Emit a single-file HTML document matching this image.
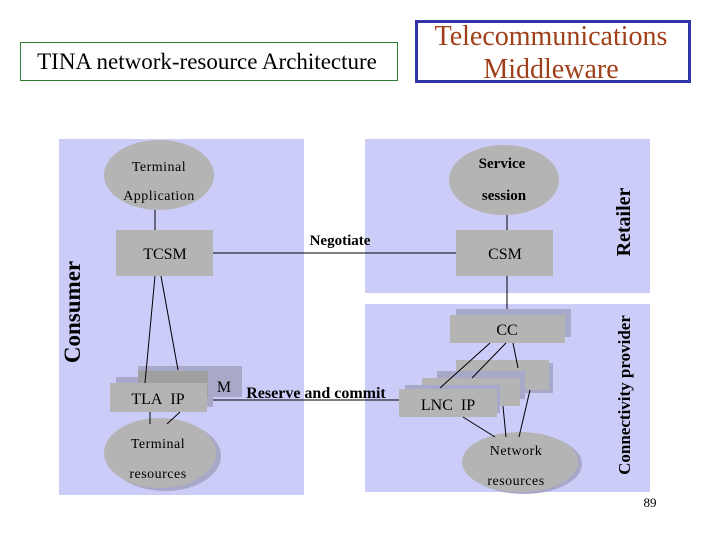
<!DOCTYPE html>
<html><head><meta charset="utf-8"><style>
body{margin:0;background:#fff;}
svg{display:block;font-family:"Liberation Serif",serif;}
</style></head><body>
<svg width="720" height="540" viewBox="0 0 720 540" xmlns="http://www.w3.org/2000/svg">
<rect x="20.5" y="42.5" width="377" height="38" fill="#fff" stroke="#2e7d32" stroke-width="1"/>
<text x="207" y="69" font-size="23" text-anchor="middle" fill="#000">TINA network-resource Architecture</text>
<rect x="416.5" y="21.5" width="273" height="60" fill="#fff" stroke="#3333aa" stroke-width="3"/>
<text x="551" y="45" font-size="28" text-anchor="middle" fill="#a0401a">Telecommunications</text>
<text x="551" y="78" font-size="28" text-anchor="middle" fill="#a0401a">Middleware</text>

<rect x="59" y="139" width="245" height="356" fill="#ccccf8"/>
<rect x="365" y="139" width="285" height="154" fill="#ccccf8"/>
<rect x="365" y="304" width="285" height="188" fill="#ccccf8"/>

<g stroke="#000" stroke-width="1" fill="none">
<line x1="155" y1="210" x2="155" y2="230"/>
<line x1="213" y1="253" x2="456" y2="253"/>
<line x1="507" y1="215" x2="507" y2="230"/>
<line x1="507" y1="276" x2="507" y2="315"/>
<line x1="207" y1="400" x2="399" y2="400"/>
</g>

<ellipse cx="159" cy="175" rx="55" ry="35" fill="#b4b4b4"/>
<text x="159" y="171" font-size="14" text-anchor="middle" letter-spacing="0.5">Terminal</text>
<text x="159" y="200" font-size="14" text-anchor="middle" letter-spacing="0.5">Application</text>
<rect x="116" y="230" width="97" height="46" fill="#b4b4b4"/>
<text x="165" y="259" font-size="16" text-anchor="middle">TCSM</text>
<text x="340" y="245" font-size="15" text-anchor="middle" font-weight="bold">Negotiate</text>

<rect x="116" y="377" width="97" height="30" fill="#a8a8c8"/>
<rect x="138" y="366" width="104" height="31" fill="#a8a8c8"/>
<rect x="138" y="371" width="70" height="26" fill="#a0a0a0"/>
<rect x="110" y="383" width="97" height="29" fill="#b4b4b4"/>
<text x="158" y="404" font-size="16" text-anchor="middle">TLA&#160;&#160;IP</text>
<text x="224" y="392" font-size="16" text-anchor="middle">M</text>
<text x="316" y="398" font-size="16" text-anchor="middle" font-weight="bold">Reserve and commit</text>
<g stroke="#000" fill="none">
<line x1="155" y1="276" x2="145" y2="383"/>
<line x1="161" y1="276" x2="178" y2="370"/>
</g>
<ellipse cx="165" cy="456" rx="56" ry="35" fill="#a8a8c8"/>
<ellipse cx="160" cy="453" rx="56" ry="35" fill="#b4b4b4"/>
<g stroke="#000" fill="none">
<line x1="150" y1="412" x2="150" y2="424"/>
<line x1="180" y1="412" x2="167" y2="424"/>
</g>
<text x="158" y="448" font-size="14" text-anchor="middle" letter-spacing="0.5">Terminal</text>
<text x="158" y="478" font-size="14" text-anchor="middle" letter-spacing="0.5">resources</text>

<ellipse cx="504" cy="180" rx="55" ry="35" fill="#b4b4b4"/>
<text x="502" y="168" font-size="15" text-anchor="middle" font-weight="bold">Service</text>
<text x="504" y="200" font-size="15" text-anchor="middle" font-weight="bold">session</text>
<rect x="456" y="230" width="97" height="46" fill="#b4b4b4"/>
<text x="505" y="259" font-size="16" text-anchor="middle">CSM</text>

<rect x="456" y="309" width="115" height="28" fill="#a8a8c8"/>
<rect x="450" y="315" width="115" height="28" fill="#b4b4b4"/>
<text x="507" y="335" font-size="16" text-anchor="middle">CC</text>

<rect x="460" y="363" width="93" height="30" fill="#a8a8c8"/>
<rect x="456" y="360" width="93" height="30" fill="#b4b4b4"/>
<rect x="437" y="371" width="88" height="28" fill="#a8a8c8"/>
<rect x="422" y="378" width="98" height="28" fill="#b4b4b4"/>
<rect x="405" y="385" width="95" height="28" fill="#a8a8c8"/>
<rect x="399" y="389" width="98" height="28" fill="#b4b4b4"/>
<text x="448" y="410" font-size="16" text-anchor="middle">LNC&#160;&#160;IP</text>

<ellipse cx="524" cy="464" rx="58" ry="30" fill="#a8a8c8"/>
<ellipse cx="520" cy="462" rx="58" ry="30" fill="#b4b4b4"/>
<g stroke="#000" fill="none">
<line x1="490" y1="343" x2="440" y2="388"/>
<line x1="506" y1="343" x2="472" y2="378"/>
<line x1="513" y1="343" x2="518" y2="368"/>
<line x1="463" y1="417" x2="495" y2="437"/>
<line x1="503" y1="406" x2="506" y2="437"/>
<line x1="530" y1="390" x2="519" y2="437"/>
</g>
<text x="516" y="455" font-size="14" text-anchor="middle" letter-spacing="0.5">Network</text>
<text x="516" y="485" font-size="14" text-anchor="middle" letter-spacing="0.5">resources</text>

<text transform="translate(80,312) rotate(-90)" font-size="23" font-weight="bold" text-anchor="middle">Consumer</text>
<text transform="translate(630,222) rotate(-90)" font-size="20" font-weight="bold" text-anchor="middle">Retailer</text>
<text transform="translate(630,395) rotate(-90)" font-size="17" font-weight="bold" text-anchor="middle">Connectivity provider</text>

<text x="650" y="507" font-size="13" text-anchor="middle">89</text>
</svg>
</body></html>
